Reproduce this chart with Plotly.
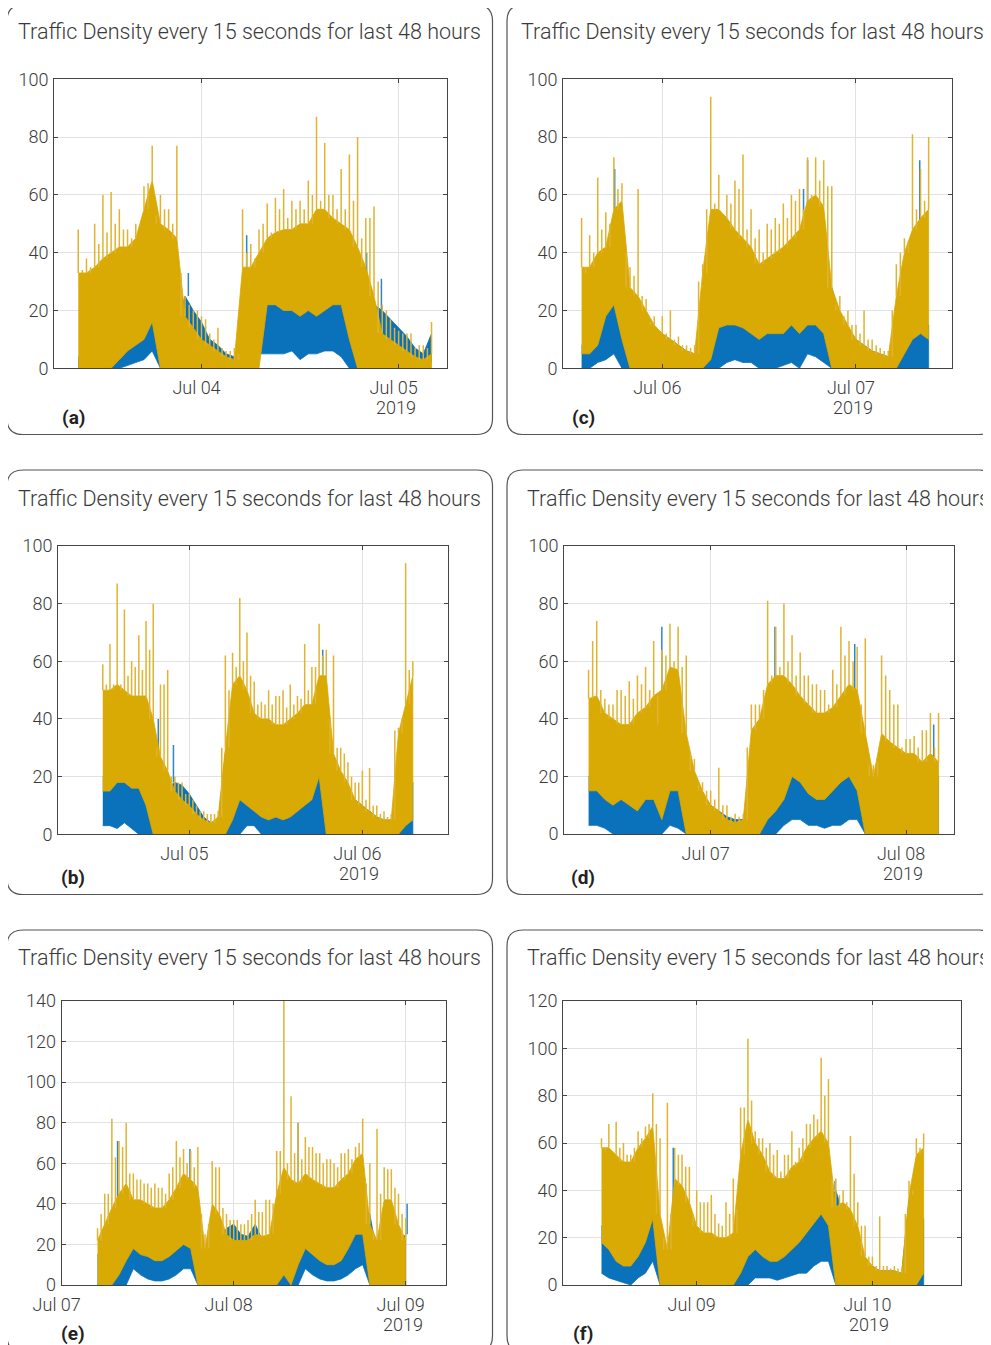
import plotly.graph_objects as go
import pandas as pd

# ---------------- data (hourly bins) ----------------
# GOLD_PEAK = tallest spike at the bin centre, GOLD_PEAK2 = spike half an hour later
# BLUE_SPIKE_AT = hours after the panel start of blue spikes that rise above the gold
# Panel (a): hourly bins starting 2019-07-03 09:00
A_START = "2019-07-03 09:00"
A_GOLD_FLOOR = [0, 0, 0, 0, 0, 3, 6, 8, 10, 16, 0, 0, 0, 0, 0, 0, 0, 0, 0, 0, 0, 0, 0, 22, 22, 20, 20, 18, 20, 18, 20, 22, 22, 10, 0, 0, 0, 0, 0, 0, 0, 0, 0, 0]
A_GOLD_TOP = [33, 33, 35, 38, 40, 42, 42, 45, 55, 65, 50, 48, 45, 18, 14, 10, 8, 6, 4, 3, 35, 35, 40, 45, 47, 48, 48, 50, 50, 55, 55, 52, 50, 48, 42, 35, 25, 12, 10, 8, 6, 4, 3, 5]
A_GOLD_PEAK = [48, 38, 50, 60, 61, 55, 48, 50, 63, 77, 60, 55, 77, 25, 20, 18, 12, 14, 6, 7, 55, 43, 48, 57, 59, 62, 58, 58, 65, 87, 78, 60, 69, 74, 80, 52, 56, 22, 17, 13, 12, 7, 8, 16]
A_GOLD_PEAK2 = [34, 35, 43, 47, 50, 48, 45, 45, 64, 53, 55, 50, 33, 22, 20, 17, 10, 7, 6, 5, 40, 38, 50, 47, 55, 52, 55, 55, 60, 58, 60, 55, 55, 58, 45, 52, 30, 20, 14, 12, 12, 8, 7, 8]
A_BLUE_FLOOR = [0, 0, 0, 0, 0, 0, 1, 2, 3, 6, 0, 0, 0, 12, 10, 8, 5, 4, 2, 1, 0, 0, 5, 5, 5, 5, 6, 3, 5, 5, 6, 6, 4, 0, 0, 10, 12, 10, 9, 7, 5, 3, 2, 2]
A_BLUE_TOP = [4, 3, 4, 3, 5, 8, 10, 12, 15, 20, 15, 12, 15, 25, 20, 16, 10, 8, 5, 4, 10, 20, 20, 22, 22, 20, 22, 20, 20, 22, 24, 25, 26, 20, 15, 25, 22, 20, 17, 14, 11, 7, 5, 12]
A_BLUE_SPIKE_AT = [13.4, 20.5, 35.1, 36.9]
A_BLUE_SPIKE_VAL = [33, 46, 40, 31]

# Panel (b): hourly bins starting 2019-07-04 12:00
B_START = "2019-07-04 12:00"
B_GOLD_FLOOR = [15, 15, 18, 18, 16, 16, 10, 0, 0, 0, 0, 0, 0, 0, 0, 0, 0, 0, 5, 12, 10, 8, 6, 5, 6, 5, 6, 8, 10, 12, 20, 0, 0, 0, 0, 0, 0, 0, 0, 0, 0, 0, 3, 5]
B_GOLD_TOP = [50, 50, 52, 50, 48, 48, 48, 40, 27, 22, 15, 12, 10, 7, 5, 4, 6, 30, 52, 55, 50, 42, 40, 40, 38, 38, 40, 42, 45, 45, 55, 55, 28, 22, 18, 12, 10, 8, 6, 5, 5, 35, 45, 55]
B_GOLD_PEAK = [59, 66, 87, 78, 60, 69, 74, 80, 52, 57, 20, 18, 14, 10, 8, 7, 8, 62, 63, 82, 70, 53, 46, 50, 48, 50, 52, 48, 66, 58, 73, 64, 62, 30, 25, 18, 22, 23, 10, 8, 7, 37, 94, 60]
B_GOLD_PEAK2 = [52, 52, 52, 55, 58, 57, 64, 30, 52, 20, 18, 14, 12, 8, 7, 7, 30, 50, 58, 60, 55, 45, 45, 45, 48, 44, 45, 47, 50, 58, 62, 40, 30, 28, 20, 18, 12, 10, 7, 6, 36, 40, 57, 55]
B_BLUE_FLOOR = [3, 3, 2, 4, 2, 0, 0, 0, 0, 0, 8, 8, 6, 3, 0, 0, 0, 0, 0, 0, 3, 3, 0, 0, 0, 0, 0, 0, 0, 0, 0, 0, 0, 0, 0, 0, 0, 0, 0, 0, 0, 0, 0, 0]
B_BLUE_TOP = [20, 20, 22, 22, 22, 22, 20, 15, 20, 16, 18, 17, 14, 10, 6, 4, 4, 28, 25, 20, 14, 12, 10, 8, 10, 10, 10, 12, 15, 18, 25, 40, 25, 20, 16, 12, 10, 8, 6, 5, 5, 10, 12, 18]
B_BLUE_SPIKE_AT = [7.7, 9.8, 30.5]
B_BLUE_SPIKE_VAL = [40, 31, 64]

# Panel (c): hourly bins starting 2019-07-05 14:00
C_START = "2019-07-05 14:00"
C_GOLD_FLOOR = [5, 5, 8, 18, 22, 10, 0, 0, 0, 0, 0, 0, 0, 0, 0, 0, 3, 14, 15, 15, 14, 12, 10, 12, 12, 12, 15, 12, 15, 15, 12, 0, 0, 0, 0, 0, 0, 0, 0, 0, 5, 10, 12, 10]
C_GOLD_TOP = [35, 35, 40, 42, 55, 58, 28, 25, 20, 15, 12, 10, 8, 6, 5, 33, 55, 55, 52, 48, 45, 42, 36, 38, 40, 42, 45, 48, 58, 60, 56, 28, 20, 15, 10, 8, 6, 5, 4, 25, 40, 48, 52, 55]
C_GOLD_PEAK = [52, 46, 66, 54, 73, 64, 35, 62, 24, 18, 18, 20, 11, 8, 8, 36, 94, 67, 60, 65, 74, 55, 48, 50, 52, 57, 60, 62, 73, 73, 72, 63, 25, 20, 15, 20, 10, 7, 6, 36, 45, 81, 69, 80]
C_GOLD_PEAK2 = [33, 40, 48, 50, 62, 40, 32, 25, 16, 12, 12, 10, 8, 7, 30, 55, 57, 52, 57, 62, 48, 45, 40, 48, 50, 52, 58, 55, 60, 65, 63, 22, 18, 15, 12, 10, 8, 6, 20, 40, 44, 55, 58, 55]
C_BLUE_FLOOR = [0, 0, 2, 3, 5, 0, 0, 0, 0, 0, 0, 0, 0, 0, 0, 0, 0, 0, 2, 3, 2, 2, 0, 0, 0, 1, 2, 0, 5, 4, 2, 0, 0, 0, 0, 0, 0, 0, 0, 0, 0, 0, 0, 0]
C_BLUE_TOP = [8, 8, 12, 22, 30, 35, 20, 18, 16, 14, 12, 10, 8, 6, 5, 15, 15, 16, 18, 18, 17, 15, 14, 15, 16, 15, 18, 16, 20, 18, 15, 28, 18, 14, 10, 8, 6, 5, 4, 10, 8, 15, 16, 15]
C_BLUE_SPIKE_AT = [4.1, 27.5, 28.0, 41.9]
C_BLUE_SPIKE_VAL = [69, 62, 72, 72]

# Panel (d): hourly bins starting 2019-07-06 09:00
D_START = "2019-07-06 09:00"
D_GOLD_FLOOR = [15, 15, 12, 10, 12, 10, 8, 12, 12, 5, 15, 15, 0, 0, 0, 0, 0, 0, 0, 0, 0, 0, 5, 8, 12, 20, 18, 14, 12, 12, 15, 18, 20, 15, 0, 0, 0, 0, 0, 0, 0, 0, 0, 0]
D_GOLD_TOP = [47, 48, 42, 40, 38, 38, 42, 44, 48, 50, 58, 57, 35, 22, 15, 10, 8, 5, 4, 5, 36, 40, 52, 55, 55, 52, 48, 45, 42, 42, 44, 48, 52, 50, 35, 20, 35, 32, 30, 28, 28, 25, 28, 25]
D_GOLD_PEAK = [57, 74, 47, 45, 50, 53, 55, 58, 67, 64, 73, 72, 62, 26, 18, 15, 23, 10, 7, 7, 45, 45, 81, 72, 80, 69, 63, 55, 52, 50, 57, 72, 67, 65, 68, 24, 62, 50, 45, 33, 34, 36, 42, 42]
D_GOLD_PEAK2 = [67, 50, 45, 50, 48, 47, 52, 50, 38, 62, 60, 58, 28, 17, 15, 12, 10, 6, 6, 30, 45, 50, 55, 58, 60, 55, 55, 52, 50, 45, 52, 62, 60, 45, 24, 25, 55, 45, 30, 33, 30, 36, 30, 42]
D_BLUE_FLOOR = [3, 3, 2, 0, 0, 0, 0, 0, 0, 0, 3, 2, 0, 0, 0, 0, 0, 0, 0, 0, 0, 0, 0, 0, 3, 5, 5, 3, 3, 2, 3, 3, 5, 5, 0, 0, 0, 0, 0, 0, 0, 0, 0, 0]
D_BLUE_TOP = [20, 20, 18, 16, 18, 18, 15, 18, 20, 45, 20, 18, 30, 20, 14, 10, 8, 6, 5, 5, 10, 15, 18, 20, 20, 24, 22, 18, 16, 16, 18, 22, 26, 25, 20, 15, 12, 10, 20, 22, 20, 22, 24, 20]
D_BLUE_SPIKE_AT = [9.0, 22.9, 32.7, 42.4]
D_BLUE_SPIKE_VAL = [72, 72, 66, 38]

# Panel (e): hourly bins starting 2019-07-07 05:00
E_START = "2019-07-07 05:00"
E_GOLD_FLOOR = [0, 0, 0, 5, 12, 18, 15, 14, 12, 12, 14, 17, 20, 18, 0, 0, 0, 0, 0, 0, 0, 0, 0, 0, 0, 0, 5, 0, 10, 18, 15, 12, 10, 10, 12, 18, 25, 25, 0, 0, 0, 0, 0, 0]
E_GOLD_TOP = [22, 30, 38, 45, 50, 42, 42, 40, 38, 38, 42, 48, 55, 52, 48, 18, 40, 35, 25, 22, 22, 22, 25, 24, 25, 45, 58, 52, 50, 55, 52, 50, 48, 48, 52, 55, 62, 65, 30, 22, 42, 42, 30, 22]
E_GOLD_PEAK = [28, 45, 82, 71, 80, 55, 52, 50, 50, 48, 55, 71, 67, 66, 68, 25, 61, 58, 35, 32, 30, 32, 42, 36, 42, 66, 140, 93, 80, 73, 68, 65, 62, 60, 65, 67, 68, 82, 60, 77, 58, 57, 45, 33]
E_GOLD_PEAK2 = [35, 45, 63, 68, 55, 52, 50, 48, 48, 45, 58, 63, 60, 58, 35, 30, 58, 38, 32, 32, 30, 35, 36, 42, 40, 66, 60, 65, 62, 68, 65, 60, 62, 58, 65, 62, 70, 50, 25, 45, 57, 48, 35, 25]
E_BLUE_FLOOR = [0, 0, 0, 0, 0, 8, 5, 3, 2, 2, 3, 5, 8, 8, 0, 0, 0, 0, 0, 0, 0, 0, 0, 0, 0, 0, 0, 0, 0, 8, 5, 3, 2, 2, 3, 5, 8, 10, 0, 0, 0, 0, 0, 0]
E_BLUE_TOP = [15, 10, 10, 12, 22, 22, 20, 18, 16, 15, 18, 22, 26, 25, 15, 18, 10, 20, 28, 30, 25, 24, 30, 22, 20, 30, 30, 25, 18, 24, 20, 16, 14, 14, 18, 26, 34, 38, 35, 15, 10, 12, 20, 25]
E_BLUE_SPIKE_AT = [2.8, 12.9, 28.0, 43.2]
E_BLUE_SPIKE_VAL = [71, 67, 80, 40]

# Panel (f): hourly bins starting 2019-07-08 11:00
F_START = "2019-07-08 11:00"
F_GOLD_FLOOR = [18, 15, 10, 8, 8, 12, 18, 28, 0, 0, 0, 0, 0, 0, 0, 0, 0, 0, 0, 5, 12, 15, 12, 10, 10, 12, 15, 18, 22, 26, 30, 25, 0, 0, 0, 0, 0, 0, 0, 0, 0, 0, 0, 0, 5]
F_GOLD_TOP = [58, 58, 55, 52, 52, 58, 62, 67, 30, 15, 45, 42, 35, 25, 22, 22, 20, 20, 22, 55, 70, 60, 55, 48, 45, 45, 50, 52, 58, 62, 65, 60, 33, 35, 32, 25, 12, 8, 6, 6, 6, 5, 38, 55, 58]
F_GOLD_PEAK = [62, 68, 69, 60, 55, 65, 67, 81, 62, 77, 58, 55, 50, 40, 35, 38, 26, 35, 45, 75, 104, 65, 62, 60, 57, 55, 65, 58, 68, 72, 96, 87, 45, 40, 63, 35, 25, 12, 29, 8, 8, 7, 44, 62, 64]
F_GOLD_PEAK2 = [57, 55, 58, 55, 58, 62, 68, 68, 20, 30, 55, 50, 30, 35, 35, 30, 25, 30, 32, 75, 78, 62, 58, 55, 48, 55, 52, 62, 68, 70, 80, 45, 38, 35, 47, 25, 12, 8, 8, 7, 7, 30, 40, 58, 58]
F_BLUE_FLOOR = [5, 3, 2, 1, 0, 3, 5, 10, 0, 0, 0, 0, 0, 0, 0, 0, 0, 0, 0, 0, 0, 3, 3, 3, 2, 3, 4, 5, 5, 8, 10, 10, 0, 0, 0, 0, 0, 0, 0, 0, 0, 0, 0, 0, 0]
F_BLUE_TOP = [25, 20, 15, 12, 12, 15, 25, 35, 20, 10, 8, 10, 15, 20, 20, 22, 15, 15, 18, 20, 20, 20, 15, 14, 14, 16, 18, 22, 28, 32, 38, 36, 40, 30, 20, 15, 10, 8, 6, 6, 6, 5, 36, 25, 28]
F_BLUE_SPIKE_AT = [9.8, 31.9]
F_BLUE_SPIKE_VAL = [58, 44]

TITLE = "Traffic Density every 15 seconds for last 48 hours"
YEAR = "2019"

# ---------------- layout helpers ----------------
PAGE_OFF = 8                     # default body margin of the html page
FW, FH = 991 - PAGE_OFF, 1345 - PAGE_OFF
def X(p):
    return (p - PAGE_OFF) / FW
def Y(p):
    return 1 - (p - PAGE_OFF) / FH

BLUE = "#0A72BA"
BLUE_SPIKE = "#2E86C8"
GOLD = "#D9A904"
GOLD_SPIKE = "#E0B330"
TXT = "#3a3a3a"
FONT = "Roboto"

panels = [
    dict(lab="(a)", start=A_START, gf=A_GOLD_FLOOR, gt=A_GOLD_TOP, gp=A_GOLD_PEAK, gp2=A_GOLD_PEAK2, bf=A_BLUE_FLOOR, bt=A_BLUE_TOP,
         bsa=A_BLUE_SPIKE_AT, bsv=A_BLUE_SPIKE_VAL,
         xr=["2019-07-03 06:05", "2019-07-05 05:53"], days=["2019-07-04", "2019-07-05"], ymax=100,
         plot=(54.3, 79.3, 447, 368.3), box=(7, 5, 492.5, 434.5), title=(249, 31), labpos=(73, 417)),
    dict(lab="(c)", start=C_START, gf=C_GOLD_FLOOR, gt=C_GOLD_TOP, gp=C_GOLD_PEAK, gp2=C_GOLD_PEAK2, bf=C_BLUE_FLOOR, bt=C_BLUE_TOP,
         bsa=C_BLUE_SPIKE_AT, bsv=C_BLUE_SPIKE_VAL,
         xr=["2019-07-05 11:44", "2019-07-07 11:56"], days=["2019-07-06", "2019-07-07"], ymax=100,
         plot=(563.3, 79.3, 952.3, 368.3), box=(507, 5, 995, 434.5), title=(752, 31), labpos=(583, 417)),
    dict(lab="(b)", start=B_START, gf=B_GOLD_FLOOR, gt=B_GOLD_TOP, gp=B_GOLD_PEAK, gp2=B_GOLD_PEAK2, bf=B_BLUE_FLOOR, bt=B_BLUE_TOP,
         bsa=B_BLUE_SPIKE_AT, bsv=B_BLUE_SPIKE_VAL,
         xr=["2019-07-04 05:50", "2019-07-06 11:50"], days=["2019-07-05", "2019-07-06"], ymax=100,
         plot=(58.3, 546, 447.7, 834.3), box=(7, 470, 492.5, 894.5), title=(249, 498), labpos=(73, 877)),
    dict(lab="(d)", start=D_START, gf=D_GOLD_FLOOR, gt=D_GOLD_TOP, gp=D_GOLD_PEAK, gp2=D_GOLD_PEAK2, bf=D_BLUE_FLOOR, bt=D_BLUE_TOP,
         bsa=D_BLUE_SPIKE_AT, bsv=D_BLUE_SPIKE_VAL,
         xr=["2019-07-06 06:01", "2019-07-08 05:56"], days=["2019-07-07", "2019-07-08"], ymax=100,
         plot=(564.3, 546, 954.3, 834), box=(507, 470, 995, 894.5), title=(758, 498), labpos=(583, 877)),
    dict(lab="(e)", start=E_START, gf=E_GOLD_FLOOR, gt=E_GOLD_TOP, gp=E_GOLD_PEAK, gp2=E_GOLD_PEAK2, bf=E_BLUE_FLOOR, bt=E_BLUE_TOP,
         bsa=E_BLUE_SPIKE_AT, bsv=E_BLUE_SPIKE_VAL,
         xr=["2019-07-07 00:00", "2019-07-09 05:35"], days=["2019-07-07", "2019-07-08", "2019-07-09"], ymax=140,
         plot=(61.7, 1001, 445.7, 1285), box=(7, 930, 492.5, 1352), title=(249, 957), labpos=(73, 1333)),
    dict(lab="(f)", start=F_START, gf=F_GOLD_FLOOR, gt=F_GOLD_TOP, gp=F_GOLD_PEAK, gp2=F_GOLD_PEAK2, bf=F_BLUE_FLOOR, bt=F_BLUE_TOP,
         bsa=F_BLUE_SPIKE_AT, bsv=F_BLUE_SPIKE_VAL,
         xr=["2019-07-08 05:47", "2019-07-10 12:06"], days=["2019-07-09", "2019-07-10"], ymax=120,
         plot=(563.3, 1001, 961, 1285), box=(507, 930, 995, 1352), title=(758, 957), labpos=(583, 1333)),
]

def rounded(x0, y0, x1, y1, r=16):
    return (f"M {X(x0 + r)},{Y(y0)} L {X(x1 - r)},{Y(y0)} Q {X(x1)},{Y(y0)} {X(x1)},{Y(y0 + r)} "
            f"L {X(x1)},{Y(y1 - r)} Q {X(x1)},{Y(y1)} {X(x1 - r)},{Y(y1)} "
            f"L {X(x0 + r)},{Y(y1)} Q {X(x0)},{Y(y1)} {X(x0)},{Y(y1 - r)} "
            f"L {X(x0)},{Y(y0 + r)} Q {X(x0)},{Y(y0)} {X(x0 + r)},{Y(y0)} Z")

def band(xs, top, floor, color, xa, ya):
    xx = list(xs) + list(xs[::-1])
    yy = list(top) + list(floor[::-1])
    return go.Scatter(x=xx, y=yy, fill="toself", fillcolor=color, mode="lines",
                      line=dict(color=color, width=0.8), xaxis=xa, yaxis=ya, hoverinfo="skip")

fig = go.Figure()
layout = dict(width=FW, height=FH, template="none",
              margin=dict(l=0, r=0, t=0, b=0, pad=0, autoexpand=False),
              paper_bgcolor="white", plot_bgcolor="white", showlegend=False,
              shapes=[], annotations=[])

HALF = pd.Timedelta(minutes=30)
for i, p in enumerate(panels):
    n = "" if i == 0 else str(i + 1)
    t0 = pd.Timestamp(p["start"])
    xs = pd.date_range(t0, periods=len(p["gt"]), freq="h")
    xa, ya = "x" + n, "y" + n
    gt = p["gt"]
    # blue series (underneath the gold one)
    fig.add_trace(band(xs, p["bt"], p["bf"], BLUE, xa, ya))
    bx, by = [], []
    for at, v in zip(p["bsa"], p["bsv"]):
        k = min(int(round(at)), len(gt) - 1)
        tt = t0 + pd.Timedelta(hours=at)
        bx += [tt, tt, None]
        by += [p["bt"][k], v, None]
    fig.add_trace(go.Scatter(x=bx, y=by, mode="lines", line=dict(color=BLUE_SPIKE, width=1.5),
                             xaxis=xa, yaxis=ya, hoverinfo="skip", connectgaps=False))
    # gold series on top
    fig.add_trace(band(xs, gt, p["gf"], GOLD, xa, ya))
    sx, sy = [], []
    for k, t in enumerate(xs):
        sx += [t, t, None]
        sy += [gt[k], p["gp"][k], None]
        if k + 1 < len(gt):
            sx += [t + HALF, t + HALF, None]
            sy += [min(gt[k], gt[k + 1]), p["gp2"][k], None]
    fig.add_trace(go.Scatter(x=sx, y=sy, mode="lines", line=dict(color=GOLD_SPIKE, width=1.5),
                             xaxis=xa, yaxis=ya, hoverinfo="skip", connectgaps=False))

    l, t, r, b = p["plot"]
    days = p["days"]
    ticktext = [pd.Timestamp(d).strftime("%b %d") for d in days]
    common = dict(showgrid=True, gridcolor="#e2e2e2", gridwidth=1, showline=True, linecolor="#444444",
                  linewidth=1.3, mirror="allticks", ticks="inside", ticklen=4, tickcolor="#444444",
                  zeroline=False, automargin=False,
                  tickfont=dict(family=FONT, size=18, color=TXT, weight=300))
    layout["xaxis" + n] = dict(domain=[X(l), X(r)], anchor=ya, type="date", range=p["xr"],
                               tickmode="array", tickvals=days, ticktext=ticktext,
                               ticklabelstandoff=3, ticklabelshift=-5, **common)
    layout["yaxis" + n] = dict(domain=[Y(b), Y(t)], anchor=xa, range=[0, p["ymax"]],
                               tickmode="array", tickvals=list(range(0, p["ymax"] + 1, 20)),
                               ticklabelstandoff=1, **common)
    layout["shapes"].append(dict(type="path", xref="paper", yref="paper", path=rounded(*p["box"]),
                                 line=dict(color="#555555", width=1.2), layer="below"))
    layout["annotations"].append(dict(text=TITLE, xref="paper", yref="paper", x=X(p["title"][0]),
                                      y=Y(p["title"][1]), xanchor="center", yanchor="middle", showarrow=False,
                                      font=dict(family=FONT, size=21.5, color=TXT, weight=300)))
    layout["annotations"].append(dict(text=YEAR, xref=xa, yref="paper", x=days[-1], xshift=-3,
                                      y=Y(b + 39), xanchor="center", yanchor="middle", showarrow=False,
                                      font=dict(family=FONT, size=18, color=TXT, weight=300)))
    layout["annotations"].append(dict(text="<b>" + p["lab"] + "</b>", xref="paper", yref="paper",
                                      x=X(p["labpos"][0]), y=Y(p["labpos"][1]), xanchor="center",
                                      yanchor="middle", showarrow=False,
                                      font=dict(family=FONT, size=19, color="#222222")))

fig.update_layout(**layout)
fig.write_html("out.html")
